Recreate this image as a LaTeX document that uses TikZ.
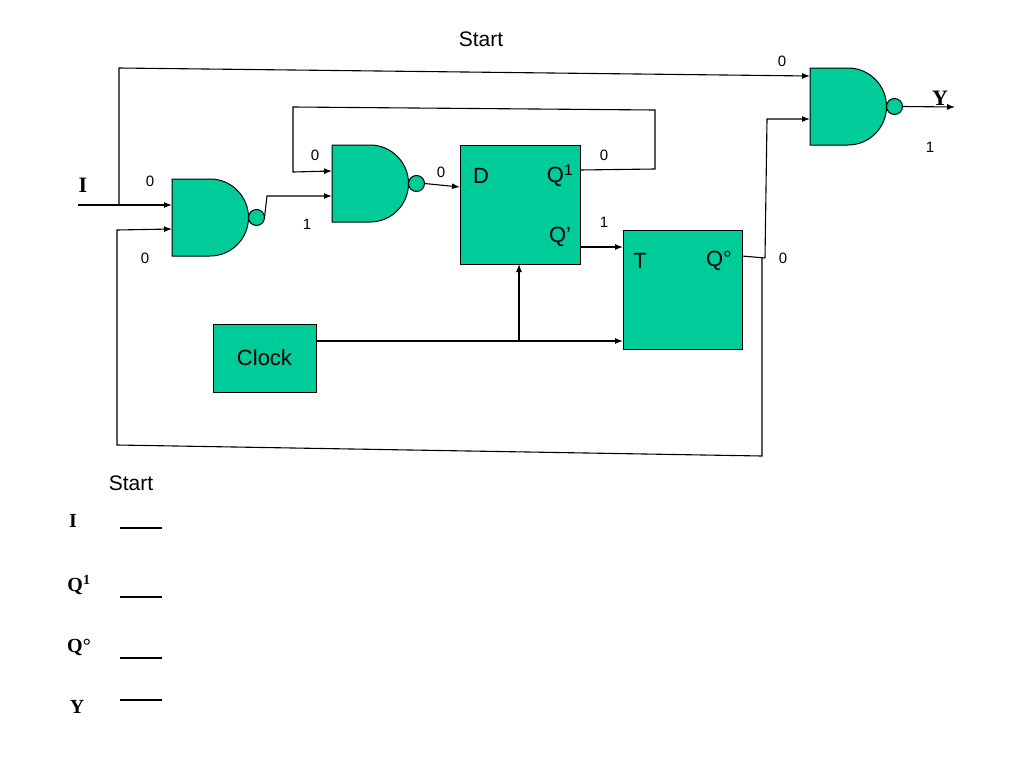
\documentclass[tikz,border=0pt]{standalone}
\usepackage{fontspec}
\setmainfont{Liberation Serif}
\newfontfamily\sansf{Liberation Sans}
\usetikzlibrary{arrows.meta}
\definecolor{gfill}{RGB}{0,204,153}
\begin{document}
\begin{tikzpicture}[x=1pt,y=-1pt,line width=1.1pt,
  w/.style={draw=black},
  a/.style={-{Latex[length=8pt,width=6pt]}},
  box/.style={draw=black,fill=gfill,line width=1pt},
  lab/.style={font=\sansf\fontsize{15}{15}\selectfont,inner sep=0pt},
  big/.style={font=\sansf\fontsize{22}{22}\selectfont,inner sep=0pt},
  ser/.style={font=\bfseries\fontsize{22}{22}\selectfont,inner sep=0pt},
  pics/nand/.style={code={
    \draw[box] (0,0)--(38,0) arc[start angle=-90,end angle=90,radius=38.5]--(0,77)--cycle;
    \draw[box] (84.5,38.5) circle (8);
    \coordinate (-o) at (92.5,38.5);
    \coordinate (-w) at (0,0);
  }}]
\useasboundingbox (0,0) rectangle (1024,768);
\pic (g1) at (172,179) {nand};
\pic (g2) at (332,145) {nand};
\pic (g3) at (810,68) {nand};
\node[box,minimum width=120pt,minimum height=119pt,inner sep=0pt] (D) at (520,204.5) {};
\node[box,minimum width=119pt,minimum height=119pt,inner sep=0pt] (T) at (682.5,289.5) {};
\node[box,minimum width=103pt,minimum height=68pt,inner sep=0pt,big] (clk) at (264.5,358) {Clock};
\node[big] at (481,176) {D};
\node[big] at (560,176) {Q\textsuperscript{1}};
\node[big] at (560,237) {Q’};
\node[big] at (640,261) {T};
\node[big] at (719,261) {Q°};
% coordinates
\coordinate (iin) at (78,205);
\coordinate (br) at (119,205);
\coordinate (g1a) at (172,205);
\coordinate (g1b) at (172,229);
\coordinate (g2a) at (332,171);
\coordinate (g2b) at (332,196);
\coordinate (g3a) at (810,76);
\coordinate (g3b) at (810,119);
\coordinate (q1) at (580,170);
\coordinate (qp) at (580,247);
\coordinate (qo) at (742,256);
\coordinate (dd) at (460,187);
\coordinate (tt) at (623,247);
\coordinate (clkd) at (519,264);
\coordinate (jn) at (519,341);
\coordinate (yo) at (955,107);
% wires
\draw[a] (iin) -- (g1a);
\draw[a] (br) -- (119,68) -- (g3a);
\draw[a] (g1-o) -- (267,196) -- (g2b);
\draw[a] (g2-o) -- (dd);
\draw[a] (q1) -- (655,169) -- (655,110) -- (293,107) -- (293,172) -- (g2a);
\draw[a] (qp) -- (tt);
\draw[a] (clk.east |- jn) -- (623,341);
\draw[a] (jn) -- (clkd);
\draw (qo) -- (765,258);
\draw[a] (765,258) -- (767,119) -- (g3b);
\draw[a] (762,258) -- (762,456) -- (117,445) -- (117,230) -- (g1b);
\draw[a] (g3-o) -- (yo);
% labels
\node[lab] at (150,181) {0};
\node[lab] at (145,258) {0};
\node[lab] at (307,224) {1};
\node[lab] at (315,155) {0};
\node[lab] at (441,172) {0};
\node[lab] at (604,155) {0};
\node[lab] at (604,222) {1};
\node[lab] at (783,258) {0};
\node[lab] at (782,61) {0};
\node[lab] at (930,147) {1};
\node[ser] at (83,185) {I};
\node[ser] at (940,98) {Y};
\node[big,font=\sansf\fontsize{21}{21}\selectfont] at (481,39) {Start};
\node[big,font=\sansf\fontsize{21}{21}\selectfont] at (131,483) {Start};
\node[ser,font=\bfseries\fontsize{20}{20}\selectfont] at (73,521) {I};
\node[ser,font=\bfseries\fontsize{20}{20}\selectfont] at (79,585) {Q\textsuperscript{1}};
\node[ser,font=\bfseries\fontsize{20}{20}\selectfont] at (79,647) {Q°};
\node[ser,font=\bfseries\fontsize{20}{20}\selectfont] at (77,707) {Y};
\draw[line width=2pt] (120,528)--(162,528);
\draw[line width=2pt] (120,597)--(162,597);
\draw[line width=2pt] (120,658)--(162,658);
\draw[line width=2pt] (120,700)--(162,700);
\end{tikzpicture}
\end{document}
